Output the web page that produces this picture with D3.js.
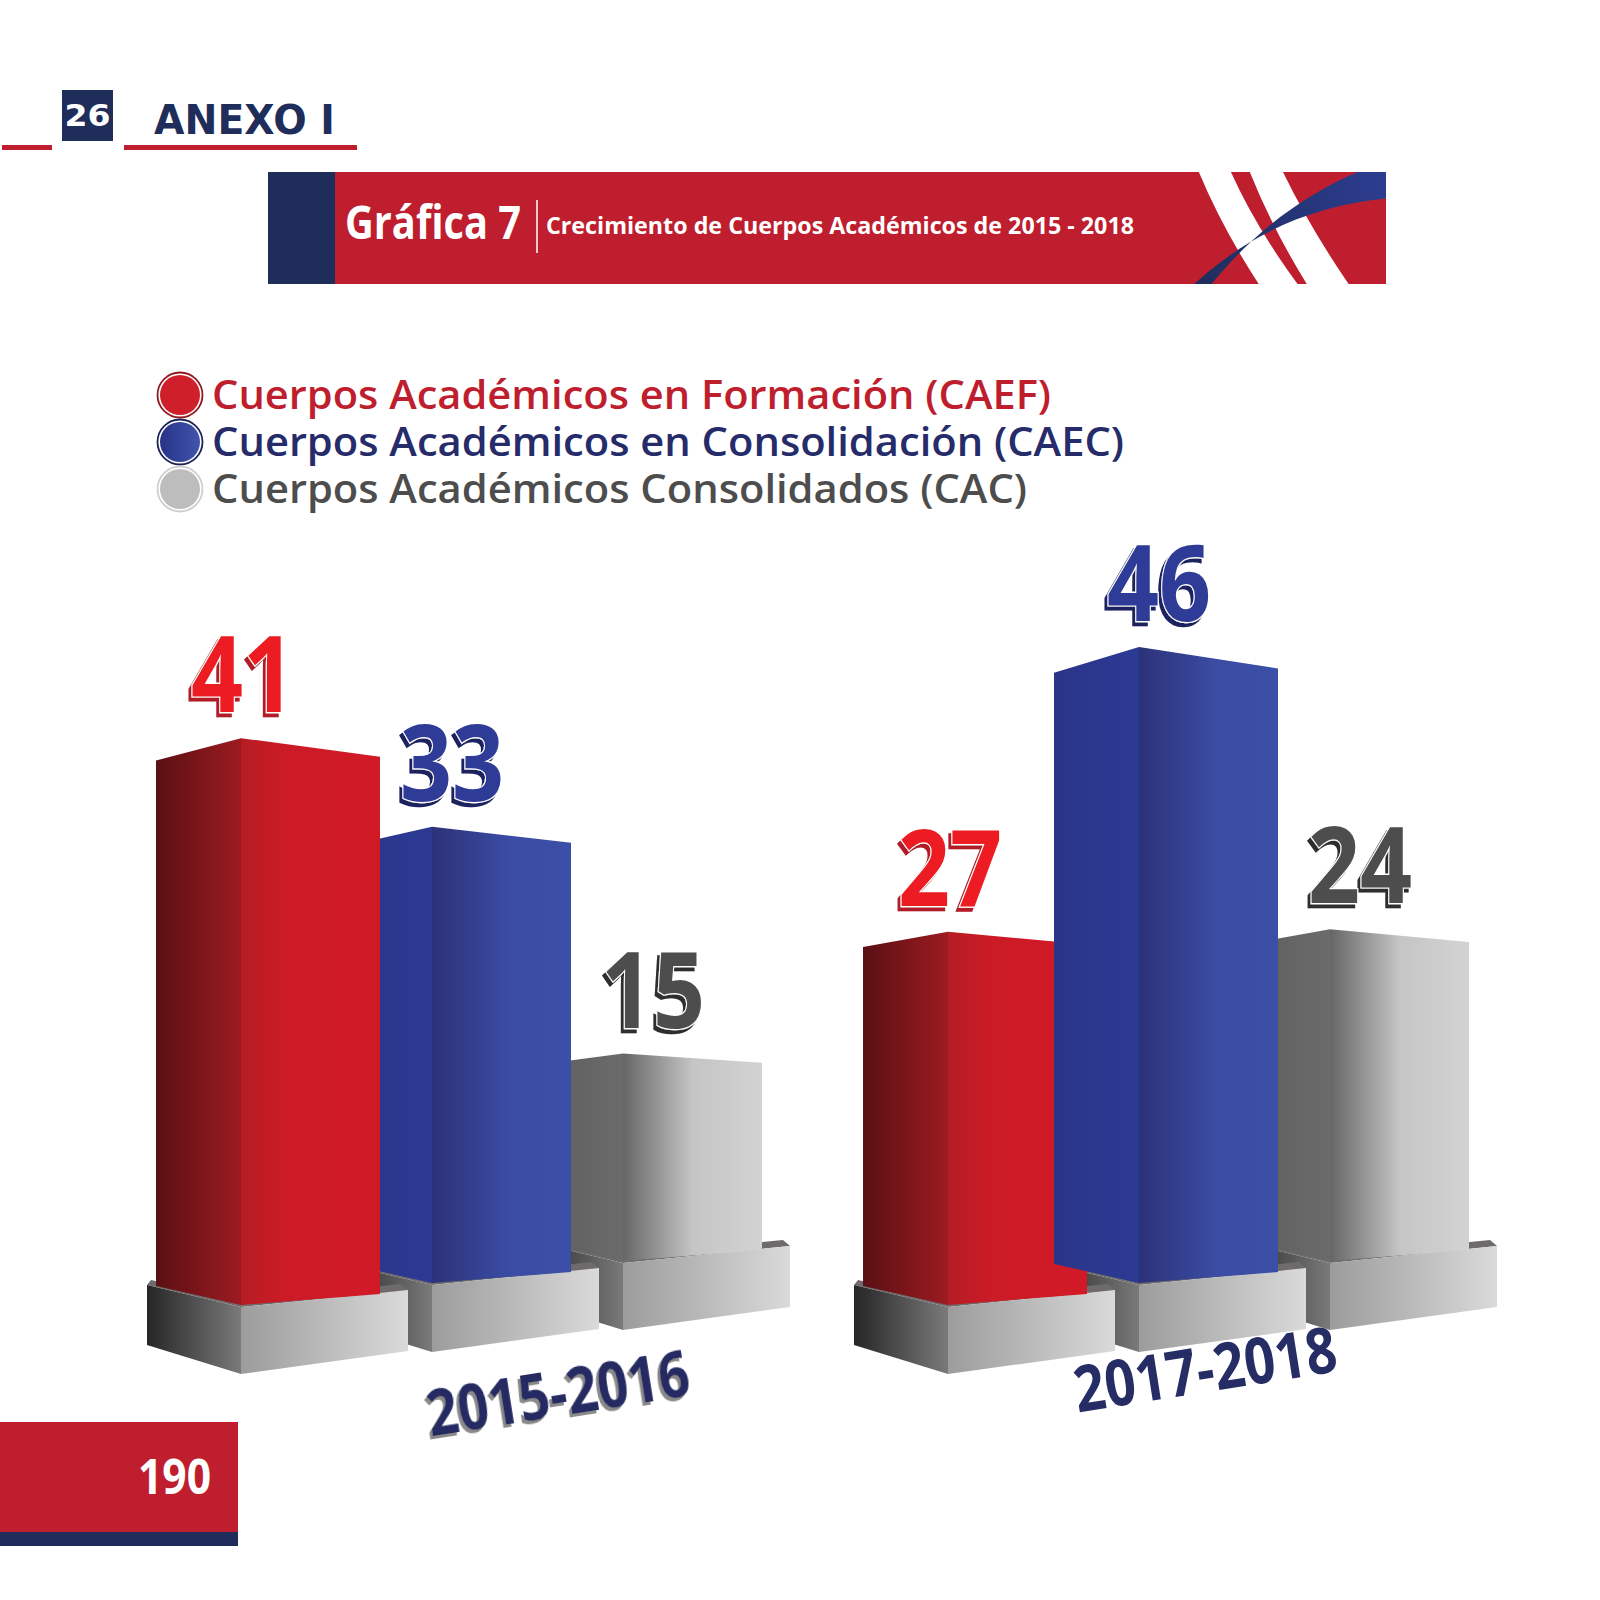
<!DOCTYPE html>
<html>
<head>
<meta charset="utf-8">
<script src="https://cdnjs.cloudflare.com/ajax/libs/d3/7.8.5/d3.min.js"></script>
<style>
  body { margin: 0; background: #fff; }
  svg { display: block; }
</style>
</head>
<body>
<div id="chart"></div>
<script>
// Chart data
const years = ["2015-2016", "2017-2018"];
const seriesKeys = ["CAEF", "CAEC", "CAC"];
const seriesNames = [
    "Cuerpos Académicos en Formación (CAEF)",
    "Cuerpos Académicos en Consolidación (CAEC)",
    "Cuerpos Académicos Consolidados (CAC)"
];
const caefValues = [41, 27];
const caecValues = [33, 46];
const cacValues = [15, 24];

const annexNumber = "26";
const annexTitle = "ANEXO I";
const chartNumber = "Gráfica 7";
const chartTitle = "Crecimiento de Cuerpos Académicos de 2015 - 2018";
const pageNumber = "190";

// Page colours
const RED = "#be1e2d";
const NAVY = "#1f2d5b";

const W = 1600, H = 1600;
const svg = d3.select("#chart").append("svg")
    .attr("width", W)
    .attr("height", H);
const defs = svg.append("defs");

function addGradient(id, stops) {
    const g = defs.append("linearGradient")
        .attr("id", id)
        .attr("x1", 0).attr("y1", 0).attr("x2", 1).attr("y2", 0);
    stops.forEach(([o, c]) => g.append("stop").attr("offset", o).attr("stop-color", c));
}

// Drop shadow behind a text, done as a filter so the text is drawn once
function addShadow(id, color, dx, dy) {
    const f = defs.append("filter")
        .attr("id", id)
        .attr("x", "-20%").attr("y", "-20%")
        .attr("width", "140%").attr("height", "140%");
    f.append("feOffset").attr("in", "SourceAlpha").attr("dx", dx).attr("dy", dy).attr("result", "off");
    f.append("feFlood").attr("flood-color", color).attr("result", "col");
    f.append("feComposite").attr("in", "col").attr("in2", "off").attr("operator", "in").attr("result", "shadow");
    const m = f.append("feMerge");
    m.append("feMergeNode").attr("in", "shadow");
    m.append("feMergeNode").attr("in", "SourceGraphic");
}

// Face shading per series
const style = {
    CAEF: { left: [[0, "#5a1014"], [1, "#9c1b21"]],
            front: [[0, "#b61c24"], [0.3, "#cb1b26"], [1, "#d21a27"]],
            label: "#ed1c24", shadow: "#b21d27", legend: "#be1e2d", dot: "#cf1f2b", ring: "#8f1a20" },
    CAEC: { left: [[0, "#2a3589"], [1, "#2c3a93"]],
            front: [[0, "#2c3278"], [0.55, "#3a4ca3"], [1, "#3c4fa7"]],
            label: "#2e3b97", shadow: "#1c2160", legend: "#262b6a", dot: "#3446a2", ring: "#1d2358" },
    CAC:  { left: [[0, "#5d5d5d"], [1, "#6b6b6b"]],
            front: [[0, "#666666"], [0.5, "#c5c5c5"], [1, "#d3d3d3"]],
            label: "#4d4d4d", shadow: "#2e2e2e", legend: "#4d4d4d", dot: "#bdbdbd", ring: "#cfcfcf" }
};
seriesKeys.forEach(k => {
    addGradient(`left-${k}`, style[k].left);
    addGradient(`front-${k}`, style[k].front);
    addShadow(`shadow-${k}`, style[k].shadow, -4, 4);
});
addShadow("shadow-year", "#8a8a8a", -3, 3);
addGradient("ped-left", [[0, "#262626"], [1, "#7a7a7a"]]);
addGradient("ped-front", [[0, "#9c9c9c"], [1, "#dadada"]]);
addGradient("dot-CAEC", [[0, "#283288"], [1, "#3f55ab"]]);
addGradient("swoosh", [[0, "#1f2d5b"], [1, "#2d3d92"]]);

// ---- Header ----
svg.append("rect").attr("x", 2).attr("y", 145).attr("width", 50).attr("height", 5).attr("fill", RED);
svg.append("rect").attr("x", 62).attr("y", 90).attr("width", 51).attr("height", 51).attr("fill", NAVY);
svg.append("text")
    .attr("x", 87.5).attr("y", 126)
    .attr("text-anchor", "middle")
    .attr("font-family", "'DejaVu Sans', sans-serif")
    .attr("font-weight", "bold").attr("font-size", 30)
    .attr("textLength", 46).attr("lengthAdjust", "spacingAndGlyphs")
    .attr("fill", "#fff")
    .text(annexNumber);
svg.append("text")
    .attr("x", 154).attr("y", 134)
    .attr("font-family", "'DejaVu Sans', sans-serif")
    .attr("font-weight", "bold").attr("font-size", 40)
    .attr("textLength", 181).attr("lengthAdjust", "spacingAndGlyphs")
    .attr("fill", NAVY)
    .text(annexTitle);
svg.append("rect").attr("x", 124).attr("y", 145).attr("width", 233).attr("height", 5).attr("fill", RED);

// ---- Title banner ----
const banner = { x: 268, y: 172, w: 1118, h: 112 };
svg.append("rect").attr("x", banner.x).attr("y", banner.y)
    .attr("width", banner.w).attr("height", banner.h).attr("fill", RED);
svg.append("rect").attr("x", banner.x).attr("y", banner.y)
    .attr("width", 67).attr("height", banner.h).attr("fill", NAVY);
defs.append("clipPath").attr("id", "banner-clip")
    .append("rect").attr("x", banner.x).attr("y", banner.y)
    .attr("width", banner.w).attr("height", banner.h);
const deco = svg.append("g").attr("clip-path", "url(#banner-clip)");
deco.append("path")
    .attr("d", "M1198,170 L1230,170 Q1256,228 1299,286 L1260,286 Q1222,228 1198,170 Z")
    .attr("fill", "#fff");
deco.append("path")
    .attr("d", "M1249,170 L1282,170 Q1310,228 1350,286 L1308,286 Q1272,228 1249,170 Z")
    .attr("fill", "#fff");
deco.append("path")
    .attr("d", "M1192,286 C1240,242 1300,206 1392,198 L1392,170 L1362,170 C1300,196 1250,236 1210,286 Z")
    .attr("fill", "url(#swoosh)");

svg.append("text")
    .attr("x", 345).attr("y", 239)
    .attr("font-family", "'Open Sans', sans-serif")
    .attr("font-weight", "bold").attr("font-size", 46)
    .attr("textLength", 176).attr("lengthAdjust", "spacingAndGlyphs")
    .attr("fill", "#fff")
    .text(chartNumber);
svg.append("line")
    .attr("x1", 537).attr("x2", 537).attr("y1", 200).attr("y2", 253)
    .attr("stroke", "#fff").attr("stroke-width", 1.5);
svg.append("text")
    .attr("x", 546).attr("y", 234)
    .attr("font-family", "'Open Sans', sans-serif")
    .attr("font-weight", "bold").attr("font-size", 24)
    .attr("textLength", 588).attr("lengthAdjust", "spacingAndGlyphs")
    .attr("fill", "#fff")
    .text(chartTitle);

// ---- Legend ----
const legendWidths = [839, 912, 815];
const legend = svg.append("g");
seriesKeys.forEach((k, i) => {
    const cy = 395 + i * 47;
    legend.append("circle")
        .attr("cx", 180).attr("cy", cy).attr("r", 22.5)
        .attr("fill", "#fff").attr("stroke", style[k].ring).attr("stroke-width", 1.8);
    legend.append("circle")
        .attr("cx", 180).attr("cy", cy).attr("r", 20)
        .attr("fill", k === "CAEC" ? "url(#dot-CAEC)" : style[k].dot);
    legend.append("text")
        .attr("x", 212).attr("y", cy + 14)
        .attr("font-family", "'Open Sans', sans-serif")
        .attr("font-weight", 600).attr("font-size", 40)
        .attr("textLength", legendWidths[i]).attr("lengthAdjust", "spacingAndGlyphs")
        .attr("fill", style[k].legend)
        .text(seriesNames[i]);
});

// ---- 3D bars ----
const valuesByKey = { CAEF: caefValues, CAEC: caecValues, CAC: cacValues };
const bars = years.flatMap((year, gi) =>
    seriesKeys.map((key, si) => ({ year, key, si, value: valuesByKey[key][gi] })));

// Front corner of each box
const groupX = d3.scaleBand().domain(years).range([241, 241 + 707 * 2]);
const seriesX = d3.scaleBand().domain(seriesKeys).range([0, 573]);
// Base of each box (boxes step back and up)
const baseY = d3.scalePoint().domain(seriesKeys).range([1305, 1261]);
// Bar height
const h = d3.scaleLinear().domain([0, 46]).range([0, 636]);

const leftW = 85, frontW = 139;
const eyeY = 1360, tilt = 0.03;
const poly = pts => d3.line()(pts) + "Z";

bars.forEach(d => {
    d.cx = groupX(d.year) + seriesX(d.key);
    d.by = baseY(d.key);
    d.ty = d.by - h(d.value);
    d.drop = tilt * (eyeY - d.ty);
    d.rise = d.drop * 1.2;
});

// Pedestals, back ones first
const pedestals = svg.append("g");
bars.slice().sort((a, b) => b.si - a.si).forEach(d => {
    const { cx, by } = d;
    pedestals.append("path")
        .attr("d", poly([[cx - 94, by - 20], [cx, by + 2], [cx + 167, by - 15],
                         [cx + 160, by - 21], [cx, by - 5], [cx - 90, by - 25]]))
        .attr("fill", "#6f6b6c");
    pedestals.append("path")
        .attr("d", poly([[cx - 94, by - 20], [cx, by + 2], [cx, by + 69], [cx - 94, by + 40]]))
        .attr("fill", "url(#ped-left)");
    pedestals.append("path")
        .attr("d", poly([[cx, by + 2], [cx + 167, by - 15], [cx + 167, by + 46], [cx, by + 69]]))
        .attr("fill", "url(#ped-front)");
});

// Boxes, taller boxes drawn in front
const boxes = svg.append("g");
bars.slice().sort((a, b) => a.value - b.value).forEach(d => {
    const { cx, by, ty, drop, rise } = d;
    boxes.append("path")
        .attr("d", poly([[cx - leftW, ty + rise], [cx, ty], [cx, by], [cx - leftW, by - 19]]))
        .attr("fill", `url(#left-${d.key})`);
    boxes.append("path")
        .attr("d", poly([[cx, ty], [cx + frontW, ty + drop], [cx + frontW, by - 11], [cx, by]]))
        .attr("fill", `url(#front-${d.key})`);
});

// Value labels with offset shadow and white rim
const labelDx = [2, 20, 30];
const labels = svg.append("g")
    .attr("font-family", "'Open Sans', sans-serif")
    .attr("font-weight", "bold")
    .attr("font-size", 106)
    .attr("text-anchor", "middle");
bars.forEach(d => {
    labels.append("g")
        .attr("transform", `translate(${d.cx + labelDx[d.si]},${d.ty - 26}) scale(0.86,1)`)
        .append("text")
        .attr("fill", style[d.key].label)
        .attr("stroke", "#fff").attr("stroke-width", 2.4)
        .attr("paint-order", "stroke")
        .attr("filter", `url(#shadow-${d.key})`)
        .text(d.value);
});

// Category labels, tilted
const yearPos = [{ x: 558, y: 1393, shadow: true }, { x: 1205, y: 1369, shadow: false }];
years.forEach((year, i) => {
    const p = yearPos[i];
    svg.append("g")
        .attr("transform", `translate(${p.x},${p.y}) rotate(-9)`)
        .append("text")
        .attr("x", 0).attr("y", 23)
        .attr("text-anchor", "middle")
        .attr("font-family", "'Open Sans', sans-serif")
        .attr("font-weight", "bold")
        .attr("font-size", 64)
        .attr("textLength", 265).attr("lengthAdjust", "spacingAndGlyphs")
        .attr("fill", "#262c64")
        .attr("filter", p.shadow ? "url(#shadow-year)" : null)
        .text(year);
});

// ---- Footer ----
svg.append("rect").attr("x", 0).attr("y", 1422).attr("width", 238).attr("height", 110).attr("fill", RED);
svg.append("rect").attr("x", 0).attr("y", 1532).attr("width", 238).attr("height", 14).attr("fill", NAVY);
svg.append("text")
    .attr("x", 211).attr("y", 1494)
    .attr("text-anchor", "end")
    .attr("font-family", "'Open Sans', sans-serif")
    .attr("font-weight", "bold").attr("font-size", 48)
    .attr("textLength", 73).attr("lengthAdjust", "spacingAndGlyphs")
    .attr("fill", "#fff")
    .text(pageNumber);
</script>
</body>
</html>
